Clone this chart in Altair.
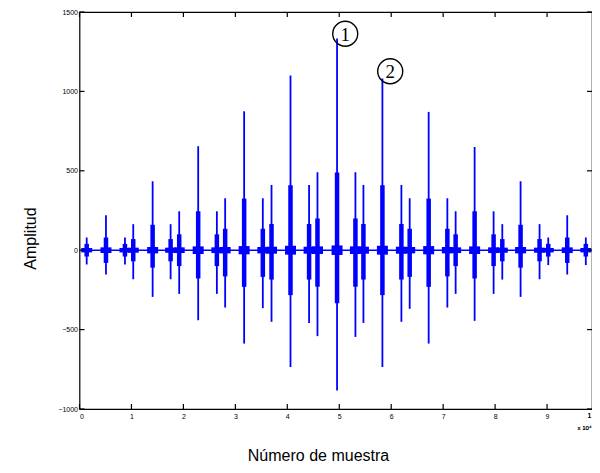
import altair as alt
import pandas as pd

# ---- data (sample index, amplitude) ----
burst_center = [1385, 5096, 8750, 10346, 14077, 17538, 19192, 22846, 26442, 28038,
                31692, 35288, 36962, 40615, 44192, 45808, 49577, 53115, 54654, 58308,
                61962, 63558, 67212, 70808, 72404, 76058, 79712, 81385, 84904, 88558,
                90231, 93885, 97462]
peak_hi = [80, 220, 80, 164, 434, 164, 245, 655, 245, 327,
           875, 327, 411, 1100, 411, 491, 1333, 491, 411, 1081,
           411, 327, 871, 327, 245, 650, 245, 164, 434, 164,
           80, 220, 80]
peak_lo = [-90, -153, -90, -183, -294, -183, -275, -441, -275, -361,
           -588, -365, -451, -735, -458, -541, -883, -546, -458, -735,
           -451, -369, -588, -361, -275, -445, -275, -185, -294, -183,
           -94, -153, -94]
core_hi = [40, 80, 40, 70, 160, 70, 100, 245, 100, 135,
           325, 135, 165, 409, 165, 200, 490, 200, 165, 409,
           165, 135, 325, 135, 100, 245, 100, 70, 160, 70,
           40, 80, 40]
core_lo = [-40, -80, -40, -70, -110, -70, -100, -178, -100, -165,
           -231, -168, -185, -283, -185, -230, -334, -230, -185, -283,
           -185, -168, -231, -165, -100, -178, -100, -70, -110, -70,
           -40, -80, -40]
blob = [14, 18, 14, 16, 20, 16, 18, 24, 18, 20,
        26, 20, 22, 28, 22, 24, 30, 24, 22, 28,
        22, 20, 26, 20, 18, 24, 18, 16, 20, 16,
        14, 18, 14]

x_ticks = [0, 10000, 20000, 30000, 40000, 50000, 60000, 70000, 80000, 90000, 100000]
y_ticks = [-1000, -500, 0, 500, 1000, 1500]
x_last_label = "1"
x_exponent = "x 10⁴"

marker_label = ["1", "2"]
marker_x = [51150, 59810]
marker_y = [1363, 1127]

W_SCALE = 519.5   # pixel length of the 0..1e5 range
W, H = 512.5, 397
BLUE = "#0000FF"

df = pd.DataFrame({
    "c": burst_center, "hi": peak_hi, "lo": peak_lo,
    "chi": core_hi, "clo": core_lo,
    "bhi": blob, "blo": [-b for b in blob],
})
marks_df = pd.DataFrame({"t": marker_label, "x": marker_x, "y": marker_y})
xt_df = pd.DataFrame({"v": x_ticks})
yt_df = pd.DataFrame({"v": y_ticks})

xs = alt.Scale(domain=[0, 100000], range=[0, W_SCALE], nice=False, zero=False)
ys = alt.Scale(domain=[-1000, 1500], nice=False, zero=False)

x_axis = alt.Axis(
    values=x_ticks,
    labelExpr="datum.value >= 100000 ? '' : format(datum.value / 10000, 'd')",
    tickSize=0, domain=False, grid=False,
    labelFontSize=7, labelPadding=3, labelColor="black",
    title="Número de muestra", titleFontSize=16, titleFontWeight="normal",
    titleX=238.5, titleY=46, titleAlign="center", titleBaseline="middle",
    titleColor="black",
)
y_axis = alt.Axis(
    values=y_ticks, format="d", tickSize=0, domain=False, grid=False,
    labelFontSize=7, labelPadding=2, labelColor="black",
    title="Amplitud", titleFontSize=16, titleFontWeight="normal",
    titleAngle=270, titleX=-49.5, titleY=226, titleAlign="center",
    titleBaseline="middle", titleColor="black",
)

baseline = alt.Chart(df).mark_rule(color=BLUE, strokeWidth=1.6).encode(
    x=alt.X("min(c):Q", scale=xs, axis=x_axis),
    x2=alt.value(W - 1),
    y=alt.Y("y0:Q", scale=ys, axis=y_axis),
).transform_calculate(y0="0")

base = alt.Chart(df)
blob_l = base.mark_rule(color=BLUE, strokeWidth=11).encode(
    x=alt.X("c:Q", scale=xs), y=alt.Y("blo:Q", scale=ys), y2="bhi:Q")
core_l = base.mark_rule(color=BLUE, strokeWidth=4.5).encode(
    x=alt.X("c:Q", scale=xs), y=alt.Y("clo:Q", scale=ys), y2="chi:Q")
spike_l = base.mark_rule(color=BLUE, strokeWidth=1.8).encode(
    x=alt.X("c:Q", scale=xs), y=alt.Y("lo:Q", scale=ys), y2="hi:Q")

# inward ticks (MATLAB style) on all four sides
xt_bottom = alt.Chart(xt_df).mark_rule(color="black", strokeWidth=1.2).encode(
    x=alt.X("v:Q", scale=xs), y=alt.value(H), y2=alt.value(H - 5))
xt_top = alt.Chart(xt_df).mark_rule(color="black", strokeWidth=1.2).encode(
    x=alt.X("v:Q", scale=xs), y=alt.value(0), y2=alt.value(5))
yt_left = alt.Chart(yt_df).mark_rule(color="black", strokeWidth=1.2).encode(
    y=alt.Y("v:Q", scale=ys), x=alt.value(0), x2=alt.value(5))
yt_right = alt.Chart(yt_df).mark_rule(color="black", strokeWidth=1.2).encode(
    y=alt.Y("v:Q", scale=ys), x=alt.value(W), x2=alt.value(W - 5))

circles = alt.Chart(marks_df).mark_point(
    shape="circle", size=625, filled=False, color="black", strokeWidth=1.4, opacity=1
).encode(x=alt.X("x:Q", scale=xs), y=alt.Y("y:Q", scale=ys))
circ_text = alt.Chart(marks_df).mark_text(
    font="Liberation Serif", fontSize=19, color="black", baseline="middle", dy=1
).encode(x=alt.X("x:Q", scale=xs), y=alt.Y("y:Q", scale=ys), text="t:N")

last_lbl = alt.Chart(marks_df).mark_text(
    fontSize=7, color="black", align="right", baseline="top"
).encode(x=alt.value(W - 0.5), y=alt.value(H + 3), text=alt.value(x_last_label))

exp_text = alt.Chart(marks_df).mark_text(
    fontSize=6, color="black", align="right", baseline="middle"
).encode(x=alt.value(W - 0.5), y=alt.value(H + 19), text=alt.value(x_exponent))

chart = alt.layer(
    baseline, blob_l, core_l, spike_l,
    xt_bottom, xt_top, yt_left, yt_right,
    circles, circ_text, last_lbl, exp_text,
).properties(
    width=W, height=H,
    autosize="none",
    padding={"left": 71.5, "top": 4, "right": 0, "bottom": 56},
).configure(font="Liberation Sans").configure_view(
    stroke="black", strokeWidth=1.2
)

chart.save("out.html", embed_options={"renderer": "svg", "actions": False})
